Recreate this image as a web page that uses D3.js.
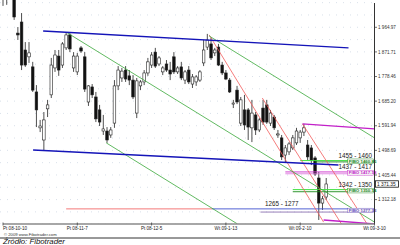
<!DOCTYPE html>
<html><head><meta charset="utf-8">
<script src="https://cdn.jsdelivr.net/npm/d3@7"></script>
<style>
body{margin:0;background:#fff;}
svg{display:block;font-family:"Liberation Sans",Arial,sans-serif;}
</style></head>
<body><div id="chart"></div>
<script>
// daily bars, index 0 = Pt 08-10-10
const opens  = [2087,2125,2163,2106,1943,1985,1879,1853,1815,1720,1584,1538,1656,1709,1811,1856,1822,1887,1936,1811,1796,1887,1853,1682,1739,1701,1652,1572,1572,1557,1602,1743,1773,1803,1781,1765,1640,1743,1758,1792,1822,1871,1826,1796,1826,1803,1853,1796,1815,1765,1803,1750,1758,1765,1830,1890,1902,1868,1890,1822,1792,1765,1674,1727,1602,1652,1652,1584,1633,1576,1659,1671,1602,1625,1557,1546,1481,1493,1508,1527,1546,1568,1519,1508,1470,1394,1299,1322];
const highs  = [2182,2201,2220,2144,1966,2019,1909,1909,1834,1746,1614,1644,1690,1849,1879,1879,1909,1947,1943,1871,1868,1894,1871,1746,1750,1720,1671,1633,1587,1587,1765,1818,1811,1818,1803,1784,1773,1765,1803,1849,1871,1887,1856,1818,1841,1834,1871,1818,1834,1803,1818,1788,1784,1803,1917,1940,1925,1887,1902,1834,1803,1773,1690,1743,1701,1709,1659,1690,1644,1621,1690,1690,1652,1633,1576,1557,1519,1530,1557,1584,1576,1599,1538,1519,1477,1417,1326,1394];
const lows   = [2046,2050,2087,1993,1917,1803,1815,1830,1720,1587,1568,1500,1625,1697,1796,1781,1811,1879,1871,1796,1784,1868,1720,1667,1697,1606,1591,1557,1527,1546,1584,1727,1758,1758,1746,1693,1621,1727,1746,1781,1811,1811,1818,1784,1796,1765,1788,1788,1765,1750,1750,1735,1743,1758,1818,1879,1841,1856,1818,1784,1765,1716,1659,1674,1591,1576,1538,1530,1557,1568,1595,1599,1591,1576,1546,1462,1451,1481,1500,1519,1527,1553,1462,1443,1402,1235,1273,1311];
const closes = [2125,2163,2144,2004,1936,1822,1822,1868,1727,1652,1591,1614,1671,1822,1860,1803,1902,1936,1883,1856,1856,1875,1731,1743,1709,1618,1606,1580,1538,1576,1743,1803,1799,1769,1765,1701,1762,1758,1792,1834,1860,1818,1849,1811,1803,1788,1796,1811,1773,1796,1758,1777,1777,1796,1879,1917,1849,1879,1822,1792,1769,1720,1678,1682,1690,1595,1587,1640,1576,1614,1606,1606,1640,1584,1561,1474,1508,1523,1546,1572,1568,1584,1474,1462,1409,1299,1315,1371.35];

const dateLabels = ["Pt 08-10-10","Pt 08-11-7","Pt 08-12-5","Wt 09-1-13","Wt 09-2-10","Wt 09-3-10"];
const dateIdx    = [0,20,40,60,80,100];
const priceTicks = [1312.18,1405.44,1498.69,1591.94,1685.20,1778.46,1871.71,1964.97];

// drawn studies: [startIdx, startPrice, endIdx, endPrice]
const blueTrend  = [[10.8,1951,93,1887],[8.1,1500,90.3,1443]];
const greenTrend = [[17.3,1944,100,1227],[27.8,1527,63.1,1220],[55.5,1932,100,1546]];
const redTrend   = [[55.5,1936,86.3,1227],[69.8,1697,91.1,1220],[80.6,1599,98,1220]];
const pinkTrend  = [[80.6,1599,100,1580],[86.3,1235,100,1220]];
// price zones: [label, hi, lo]
const zones = [["1455 - 1460",1460,1455],["1437 - 1417",1417,1410],["1342 - 1350",1350,1342],["1265 - 1277",1277,1265]];
const zoneBox = ["FIBO 1460.85","FIBO 1417.18","FIBO 1350.14","FIBO 1277.33"];

const W = 400, H = 245;
const svg = d3.select("#chart").append("svg").attr("width", W).attr("height", H);

const x = d3.scaleLinear().domain([0, 100]).range([3, 374.5]);
const y = d3.scaleLinear().domain([1312.18, 1964.97]).range([199.6, 27.3]);

svg.append("clipPath").attr("id", "plot")
  .append("rect").attr("x", 0).attr("y", 0).attr("width", 374.5).attr("height", 224);

const plot = svg.append("g").attr("clip-path", "url(#plot)");

// faint dotted grid
const gridY = d3.range(1219, 2060, 93.26 / 2);
plot.append("g").selectAll("line").data(gridY).enter().append("line")
  .attr("x1", 0).attr("x2", 374).attr("y1", d => y(d)).attr("y2", d => y(d))
  .attr("stroke", "#c9d2e0").attr("stroke-width", 0.7).attr("stroke-dasharray", "1,6");

// candles
const bars = d3.range(closes.length);
const cg = plot.append("g");
cg.selectAll("line").data(bars).enter().append("line")
  .attr("x1", i => x(i)).attr("x2", i => x(i))
  .attr("y1", i => y(highs[i])).attr("y2", i => y(lows[i]))
  .attr("stroke", "#222").attr("stroke-width", 0.8);
cg.selectAll("rect").data(bars).enter().append("rect")
  .attr("x", i => x(i) - 1.3).attr("width", 2.6)
  .attr("y", i => y(Math.max(opens[i], closes[i])))
  .attr("height", i => Math.max(0.8, Math.abs(y(opens[i]) - y(closes[i]))))
  .attr("fill", i => closes[i] < opens[i] ? "#111" : "#fff")
  .attr("stroke", "#222").attr("stroke-width", 0.6);

// zone lines
const zg = plot.append("g");
zg.append("line").attr("x1", x(17)).attr("x2", x(56.3)).attr("y1", y(1277)).attr("y2", y(1277))
  .attr("stroke", "#f36a6a").attr("stroke-width", 0.9);
zg.append("line").attr("x1", x(56.3)).attr("x2", x(100)).attr("y1", y(1277)).attr("y2", y(1277))
  .attr("stroke", "#4050d0").attr("stroke-width", 0.9);
zg.append("line").attr("x1", x(69.3)).attr("x2", x(100)).attr("y1", y(1265)).attr("y2", y(1265))
  .attr("stroke", "#8a6fb0").attr("stroke-width", 0.9);
zg.append("line").attr("x1", x(80)).attr("x2", x(100)).attr("y1", y(1460)).attr("y2", y(1460))
  .attr("stroke", "#3fe03f").attr("stroke-width", 1);
zg.append("line").attr("x1", x(84)).attr("x2", x(100)).attr("y1", y(1455)).attr("y2", y(1455))
  .attr("stroke", "#1a8a1a").attr("stroke-width", 0.9);
zg.append("line").attr("x1", x(76)).attr("x2", x(100)).attr("y1", y(1417)).attr("y2", y(1417))
  .attr("stroke", "#d040d0").attr("stroke-width", 1);
zg.append("line").attr("x1", x(76)).attr("x2", x(100)).attr("y1", y(1410)).attr("y2", y(1410))
  .attr("stroke", "#e080e0").attr("stroke-width", 0.9);
zg.append("line").attr("x1", x(78)).attr("x2", x(100)).attr("y1", y(1350)).attr("y2", y(1350))
  .attr("stroke", "#3fe03f").attr("stroke-width", 1);
zg.append("line").attr("x1", x(78)).attr("x2", x(100)).attr("y1", y(1342)).attr("y2", y(1342))
  .attr("stroke", "#1a8a1a").attr("stroke-width", 0.9);

// trend lines
const seg = (g, data, color, w) => g.selectAll(null).data(data).enter().append("line")
  .attr("x1", d => x(d[0])).attr("y1", d => y(d[1]))
  .attr("x2", d => x(d[2])).attr("y2", d => y(d[3]))
  .attr("stroke", color).attr("stroke-width", w);
const tg = plot.append("g");
seg(tg, redTrend, "#f35c5c", 0.8);
seg(tg, greenTrend, "#3aa83a", 0.8);
seg(tg, pinkTrend, "#c21fc8", 1.4);
seg(tg, blueTrend, "#1414b8", 1.4);

// zone labels
svg.append("g").selectAll("text").data(zones).enter().append("text")
  .attr("x", (d, i) => i === 3 ? x(70.5) : x(90.3))
  .attr("y", d => y(d[1]) - 3)
  .attr("font-size", 6.3).attr("fill", "#222").text(d => d[0]);

const boxColor = ["#1a8a1a", "#c21fc8", "#1a8a1a", "#6a4fc0"];
const bg = svg.append("g");
zoneBox.forEach((t, i) => {
  const yy = y((zones[i][1] + zones[i][2]) / 2);
  bg.append("rect").attr("x", x(92.8)).attr("y", yy - 2.3).attr("width", 26).attr("height", 4.6)
    .attr("fill", "#f4f4f4").attr("stroke", boxColor[i]).attr("stroke-width", 0.4);
  bg.append("text").attr("x", x(92.8) + 1).attr("y", yy + 1.6)
    .attr("font-size", 4.4).attr("font-weight", "bold").attr("fill", boxColor[i]).text(t);
});

// right axis
svg.append("line").attr("x1", 374.5).attr("x2", 374.5).attr("y1", 3).attr("y2", 224)
  .attr("stroke", "#333").attr("stroke-width", 1);
const ya = svg.append("g").selectAll("g").data(priceTicks).enter().append("g")
  .attr("transform", d => `translate(374.5,${y(d)})`);
ya.append("line").attr("x1", 0).attr("x2", 2.5).attr("stroke", "#333").attr("stroke-width", 0.7);
ya.append("text").attr("x", 3.5).attr("y", 1.6).attr("font-size", 4.6).attr("fill", "#333")
  .text(d => d3.format(",.2f")(d).replace(",", " "));

// last price box
const last = closes[closes.length - 1];
svg.append("rect").attr("x", 375.5).attr("y", y(last) - 3.2).attr("width", 23).attr("height", 6.4)
  .attr("fill", "#fff").attr("stroke", "#111").attr("stroke-width", 0.8);
svg.append("text").attr("x", 377).attr("y", y(last) + 1.7).attr("font-size", 4.8).attr("fill", "#111")
  .text(d3.format(",.2f")(last).replace(",", " "));

// bottom axis
svg.append("line").attr("x1", 3).attr("x2", 374.5).attr("y1", 224).attr("y2", 224)
  .attr("stroke", "#8a8a8a").attr("stroke-width", 1.5);
const xa = svg.append("g").selectAll("g").data(dateIdx).enter().append("g")
  .attr("transform", d => `translate(${x(d)},224)`);
xa.append("line").attr("y1", -1.5).attr("y2", 1.5).attr("stroke", "#444").attr("stroke-width", 0.8);
xa.append("text").attr("y", 6.2).attr("font-size", 4.6).attr("fill", "#222")
  .attr("text-anchor", (d, i) => i === 0 ? "start" : "middle")
  .text((d, i) => dateLabels[i]);

svg.append("text").attr("x", 4).attr("y", 235.5).attr("font-size", 4.2).attr("fill", "#333")
  .text("© 2009 www.Fibotrader.com");
svg.append("line").attr("x1", 0).attr("x2", W).attr("y1", 238).attr("y2", 238)
  .attr("stroke", "#333").attr("stroke-width", 1);
svg.append("text").attr("x", 3).attr("y", 244.3).attr("font-size", 7.8).attr("font-style", "italic")
  .attr("fill", "#111").text("Źródło: Fibotrader");
</script>
</body></html>
